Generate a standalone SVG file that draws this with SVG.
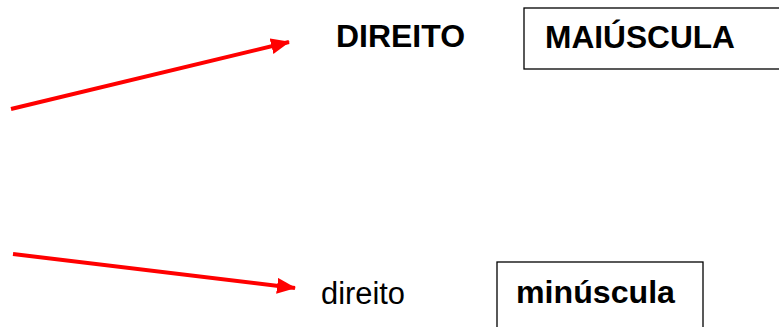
<svg xmlns="http://www.w3.org/2000/svg" width="779" height="327" viewBox="0 0 779 327">
  <style>
    .bold { font-family: "Liberation Sans", Arial, sans-serif; font-weight: bold; font-size: 31px; fill: #000; }
    .reg { font-family: "Liberation Sans", Arial, sans-serif; font-size: 31px; fill: #000; }
    .box { fill: #fff; stroke: #000; stroke-width: 1.3; }
    .arrow { stroke: #ff0000; stroke-width: 4; fill: none; }
  </style>
  <defs>
    <marker id="ah" markerUnits="userSpaceOnUse" markerWidth="20" markerHeight="16" refX="18" refY="8" orient="auto">
      <path d="M0,0 L19,8 L0,16 Z" fill="#ff0000"/>
    </marker>
  </defs>
  <rect width="779" height="327" fill="#fff"/>
  <g id="connectors">
    <line class="arrow" x1="11" y1="109" x2="289" y2="42" marker-end="url(#ah)"/>
    <line class="arrow" x1="13" y1="254" x2="295" y2="288" marker-end="url(#ah)"/>
  </g>
  <g id="node-direito-upper">
    <text class="bold" x="336" y="47" textLength="129" lengthAdjust="spacingAndGlyphs">DIREITO</text>
  </g>
  <g id="node-maiuscula">
    <rect class="box" x="524" y="8" width="260" height="61"/>
    <text class="bold" x="545" y="48" textLength="190" lengthAdjust="spacingAndGlyphs">MAIÚSCULA</text>
  </g>
  <g id="node-direito-lower">
    <text class="reg" x="321" y="304" textLength="84" lengthAdjust="spacingAndGlyphs">direito</text>
  </g>
  <g id="node-minuscula">
    <rect class="box" x="497" y="262" width="206" height="80"/>
    <text class="bold" x="516" y="303" textLength="159" lengthAdjust="spacingAndGlyphs">minúscula</text>
  </g>
</svg>
